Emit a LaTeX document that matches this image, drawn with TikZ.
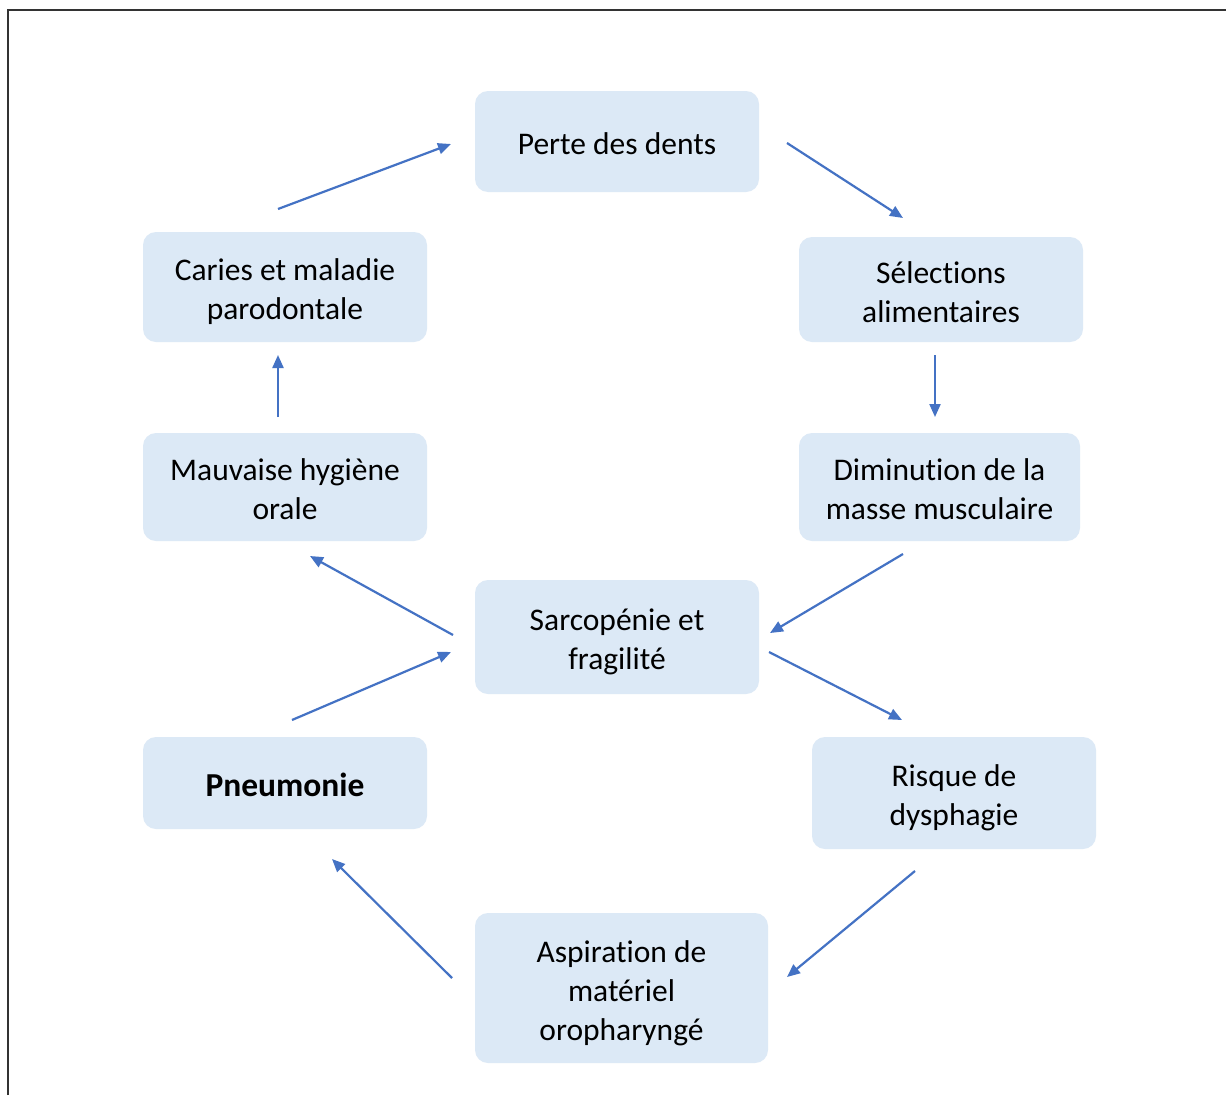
\documentclass[tikz,border=0pt]{standalone}
\usepackage{fontspec}
\setmainfont{Carlito}[Ligatures=NoCommon]
\usetikzlibrary{arrows.meta}
\definecolor{boxblue}{HTML}{DCE9F6}
\definecolor{arrowblue}{HTML}{4472C4}
\definecolor{framegray}{HTML}{333333}
\newcommand{\topst}{\rule{0pt}{34pt}}
\newcommand{\botst}{\rule[-8pt]{0pt}{8pt}}
\begin{document}
\begin{tikzpicture}[x=1pt,y=-1pt,
  box/.style={fill=boxblue, rounded corners=13pt, inner sep=0pt, align=center,
    font=\fontsize{31.5}{39}\selectfont},
  conn/.style={draw=arrowblue, line width=2.2pt, -{Triangle[length=13pt,width=11pt]}}]
\useasboundingbox (0,0) rectangle (1226,1095);
\fill[white] (0,0) rectangle (1226,1095);
\draw[framegray, line width=1.5pt] (8,1095) -- (8,10) -- (1226,10);

\node[box, minimum width=284pt, minimum height=101pt] (perte) at (617,141.5) {\topst Perte des dents\botst};
\node[box, minimum width=284pt, minimum height=110pt] (caries) at (285,287) {\topst Caries et maladie\\parodontale\botst};
\node[box, minimum width=284pt, minimum height=105pt] (selec) at (941,289.5) {\topst Sélections\\alimentaires\botst};
\node[box, minimum width=284pt, minimum height=108pt] (mauv) at (285,487) {\topst Mauvaise hygiène\\orale\botst};
\node[box, minimum width=281pt, minimum height=108pt] (dimin) at (939.5,487) {\topst Diminution de la\\masse musculaire\botst};
\node[box, minimum width=284pt, minimum height=114pt] (sarco) at (617,637) {\topst Sarcopénie et\\fragilité\botst};
\node[box, minimum width=284pt, minimum height=92pt] (pneu) at (285,783) {\fontsize{33.5}{39}\selectfont\bfseries\topst Pneumonie\botst};
\node[box, minimum width=284pt, minimum height=112pt] (risque) at (954,793) {\topst Risque de\\dysphagie\botst};
\node[box, minimum width=293pt, minimum height=150pt] (aspi) at (621.5,988) {\topst Aspiration de\\matériel\\oropharyngé\botst};

% arrow end points
\coordinate (a1s) at (278,209);  \coordinate (a1e) at (451,144);
\coordinate (a2s) at (787,143);  \coordinate (a2e) at (903,218);
\coordinate (a3s) at (935,355);  \coordinate (a3e) at (935,417);
\coordinate (a4s) at (903,554);  \coordinate (a4e) at (770,633);
\coordinate (a5s) at (769,652);  \coordinate (a5e) at (902,720);
\coordinate (a6s) at (915,871);  \coordinate (a6e) at (787,977);
\coordinate (a7s) at (452,978);  \coordinate (a7e) at (332,859);
\coordinate (a8s) at (292,720);  \coordinate (a8e) at (451,652);
\coordinate (a9s) at (453,635);  \coordinate (a9e) at (310,556);
\coordinate (a10s) at (278,417); \coordinate (a10e) at (278,355);

\draw[conn] (a1s) -- (a1e);
\draw[conn] (a2s) -- (a2e);
\draw[conn] (a3s) -- (a3e);
\draw[conn] (a4s) -- (a4e);
\draw[conn] (a5s) -- (a5e);
\draw[conn] (a6s) -- (a6e);
\draw[conn] (a7s) -- (a7e);
\draw[conn] (a8s) -- (a8e);
\draw[conn] (a9s) -- (a9e);
\draw[conn] (a10s) -- (a10e);
\end{tikzpicture}
\end{document}
